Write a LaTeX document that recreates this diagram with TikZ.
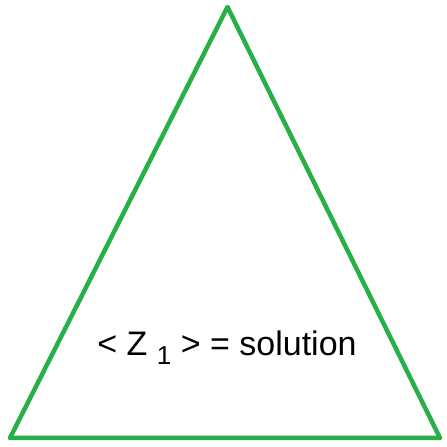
\documentclass[tikz,border=0pt]{standalone}
\usepackage{fontspec}
\setmainfont{Liberation Sans}
\definecolor{trigreen}{RGB}{40,176,72}
\begin{document}
\begin{tikzpicture}[x=1pt,y=1pt,
  tri/.style={draw=trigreen,line width=4.5pt,line join=round},
  lbl/.style={inner sep=0pt,anchor=base,font=\fontsize{34}{34}\selectfont}]
\useasboundingbox (0,0) rectangle (447,447);
\coordinate (apex) at (227.5,440);
\coordinate (bl) at (10,9);
\coordinate (br) at (440,9);
\draw[tri] (apex) -- (bl) -- (br) -- cycle;
\node[lbl] (t) at (227,91) {< Z \raisebox{-9pt}{\fontsize{26}{26}\selectfont 1}\ > = solution};
\end{tikzpicture}
\end{document}
